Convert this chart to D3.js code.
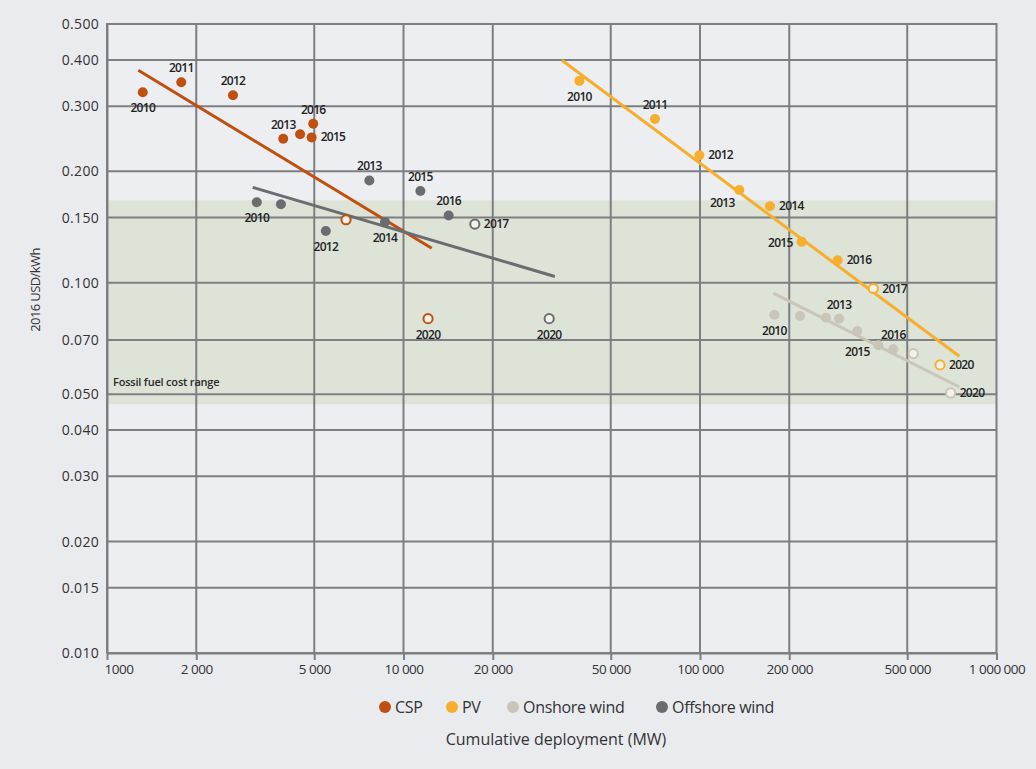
<!DOCTYPE html>
<html>
<head>
<meta charset="utf-8">
<script src="https://cdn.jsdelivr.net/npm/d3@7"></script>
<style>
  html, body { margin: 0; padding: 0; background: #e9ebee; }
  svg { display: block; font-family: "Open Sans", sans-serif; }
</style>
</head>
<body>
<svg id="chart" width="1036" height="769"></svg>
<script>
// ---- data -------------------------------------------------------------
// Cumulative deployment (MW) and levelised cost (2016 USD/kWh) per year.
// 2017 and 2020 are projections (drawn as open circles).
const cspYears      = [2010, 2011, 2012, 2013, 2014, 2015, 2016, 2017, 2020];
const cspMW         = [1320, 1780, 2660, 3930, 4480, 4900, 4960, 6400, 12100];
const cspLCOE       = [0.327, 0.348, 0.321, 0.245, 0.252, 0.247, 0.269, 0.148, 0.080];

const pvYears       = [2010, 2011, 2012, 2013, 2014, 2015, 2016, 2017, 2020];
const pvMW          = [39200, 70500, 99500, 135700, 172200, 220300, 291300, 384200, 644800];
const pvLCOE        = [0.351, 0.277, 0.221, 0.178, 0.161, 0.129, 0.115, 0.0965, 0.060];

const onshoreYears  = [2010, 2011, 2012, 2013, 2014, 2015, 2016, 2017, 2020];
const onshoreMW     = [178100, 217400, 266100, 294300, 339300, 399400, 448700, 524100, 700600];
const onshoreLCOE   = [0.082, 0.0813, 0.0805, 0.080, 0.0741, 0.0678, 0.0661, 0.0644, 0.0504];

const offshoreYears = [2010, 2011, 2012, 2013, 2014, 2015, 2016, 2017, 2020];
const offshoreMW    = [3200, 3860, 5470, 7670, 8660, 11400, 14200, 17400, 31000];
const offshoreLCOE  = [0.165, 0.163, 0.138, 0.189, 0.146, 0.177, 0.152, 0.144, 0.080];

const projectedYears = [2017, 2020];

// Learning-curve trend lines: [MW, USD/kWh] at each end
const cspTrend      = [[1275, 0.375], [12450, 0.124]];
const pvTrend       = [[34200, 0.399], [749000, 0.0633]];
const onshoreTrend  = [[176700, 0.0938], [749000, 0.0523]];
const offshoreTrend = [[3100, 0.181], [32400, 0.104]];

// Fossil fuel cost range (USD/kWh)
const fossilRange = [0.047, 0.167];

// Axis ticks
const xTicks      = [1000, 2000, 5000, 10000, 20000, 50000, 100000, 200000, 500000, 1000000];
const xTickLabels = ["1000", "2\u00a0000", "5\u00a0000", "10\u00a0000", "20\u00a0000", "50\u00a0000",
                     "100\u00a0000", "200\u00a0000", "500\u00a0000", "1\u00a0000\u00a0000"];
const yTicks      = [0.5, 0.4, 0.3, 0.2, 0.15, 0.1, 0.07, 0.05, 0.04, 0.03, 0.02, 0.015, 0.01];
const yTickLabels = ["0.500", "0.400", "0.300", "0.200", "0.150", "0.100", "0.070",
                     "0.050", "0.040", "0.030", "0.020", "0.015", "0.010"];

const seriesNames = ["CSP", "PV", "Onshore wind", "Offshore wind"];

// ---- presentation -----------------------------------------------------
const colors = {
  "CSP": "#c0500f",
  "PV": "#f6ae2c",
  "Onshore wind": "#c9c5b8",
  "Offshore wind": "#6b6c70"
};

// which year labels are drawn, and where they sit relative to the dot
const labelPlacement = {
  "CSP":          {2010: "below", 2011: "above", 2012: "above", 2013: "above", 2015: "right",
                   2016: "above", 2020: "below"},
  "PV":           {2010: "below", 2011: "above", 2012: "right", 2013: "belowleft", 2014: "right",
                   2015: "left", 2016: "right", 2017: "right", 2020: "right"},
  "Onshore wind": {2010: "below", 2013: "above", 2015: "belowleft2", 2016: "above", 2020: "right"},
  "Offshore wind":{2010: "below", 2012: "below", 2013: "above", 2014: "below", 2015: "above",
                   2016: "above", 2017: "right", 2020: "below"}
};
const placements = {
  above:      {dx: 0,   dy: -10, anchor: "middle"},
  below:      {dx: 0,   dy: 20,  anchor: "middle"},
  right:      {dx: 9,   dy: 4,   anchor: "start"},
  left:       {dx: -9,  dy: 5,   anchor: "end"},
  belowleft:  {dx: -17, dy: 17,  anchor: "middle"},
  belowleft2: {dx: -21, dy: 11,  anchor: "middle"}
};

const series = [
  {name: "CSP",           years: cspYears,      mw: cspMW,      lcoe: cspLCOE,      trend: cspTrend},
  {name: "PV",            years: pvYears,       mw: pvMW,       lcoe: pvLCOE,       trend: pvTrend},
  {name: "Onshore wind",  years: onshoreYears,  mw: onshoreMW,  lcoe: onshoreLCOE,  trend: onshoreTrend},
  {name: "Offshore wind", years: offshoreYears, mw: offshoreMW, lcoe: offshoreLCOE, trend: offshoreTrend}
];

// ---- layout -----------------------------------------------------------
const plot = {left: 107, right: 996.5, top: 24, bottom: 653};
const svg = d3.select("#chart");

const x = d3.scaleLog().domain([1000, 1000000]).range([plot.left, plot.right]);
const y = d3.scaleLog().domain([0.01, 0.5]).range([plot.bottom, plot.top]);

const gridColor = "#7e7f82";

// plot background
svg.append("rect")
  .attr("x", plot.left).attr("y", plot.top)
  .attr("width", plot.right - plot.left).attr("height", plot.bottom - plot.top)
  .attr("fill", "#eceef1");

// fossil fuel band
svg.append("rect")
  .attr("x", plot.left).attr("y", y(fossilRange[1]))
  .attr("width", plot.right - plot.left)
  .attr("height", y(fossilRange[0]) - y(fossilRange[1]))
  .attr("fill", "#dde3d7");

// gridlines
svg.append("g").selectAll("line").data(yTicks).join("line")
  .attr("x1", plot.left).attr("x2", plot.right)
  .attr("y1", d => y(d)).attr("y2", d => y(d))
  .attr("stroke", gridColor).attr("stroke-width", 2);
svg.append("g").selectAll("line").data(xTicks).join("line")
  .attr("x1", d => x(d)).attr("x2", d => x(d))
  .attr("y1", plot.top - 1).attr("y2", plot.bottom)
  .attr("stroke", gridColor).attr("stroke-width", 2);

svg.append("text")
  .attr("x", 113).attr("y", 386)
  .attr("font-size", 11).attr("font-weight", 600).attr("fill", "#2a2a2a")
  .attr("letter-spacing", -0.2)
  .text("Fossil fuel cost range");

// x axis
const xAxis = svg.append("g")
  .attr("transform", `translate(0,${plot.bottom})`)
  .call(d3.axisBottom(x).tickValues(xTicks)
        .tickFormat((d, i) => xTickLabels[i]).tickSize(7).tickSizeOuter(0).tickPadding(4));
xAxis.select(".domain").attr("stroke", gridColor).attr("stroke-width", 2);
xAxis.selectAll(".tick line").attr("stroke", gridColor).attr("stroke-width", 2);
xAxis.selectAll(".tick text")
  .attr("font-size", 13.5).attr("fill", "#333").attr("letter-spacing", -0.5)
  .attr("font-family", "Open Sans, sans-serif");
xAxis.select(".tick:first-of-type text").attr("text-anchor", "start").attr("dx", -3);

// y axis
const yAxis = svg.append("g")
  .attr("transform", `translate(${plot.left},0)`)
  .call(d3.axisLeft(y).tickValues(yTicks)
        .tickFormat((d, i) => yTickLabels[i]).tickSize(0).tickSizeOuter(0).tickPadding(8));
yAxis.select(".domain").attr("stroke", gridColor).attr("stroke-width", 2);
yAxis.selectAll(".tick text")
  .attr("font-size", 14).attr("fill", "#333").attr("letter-spacing", 0.3)
  .attr("font-family", "Open Sans, sans-serif");

svg.append("text")
  .attr("transform", `translate(40,290) rotate(-90)`)
  .attr("text-anchor", "middle")
  .attr("font-size", 13).attr("fill", "#333").attr("letter-spacing", -0.6)
  .text("2016 USD/kWh");

// trend lines
const line = d3.line().x(d => x(d[0])).y(d => y(d[1]));
svg.append("g").selectAll("path").data(series).join("path")
  .attr("d", d => line(d.trend))
  .attr("fill", "none")
  .attr("stroke", d => colors[d.name])
  .attr("stroke-width", 3);

// points and year labels
series.forEach(s => {
  const pts = s.years.map((yr, i) => ({year: yr, mw: s.mw[i], v: s.lcoe[i]}));
  const g = svg.append("g");
  g.selectAll("circle").data(pts).join("circle")
    .attr("cx", d => x(d.mw)).attr("cy", d => y(d.v))
    .attr("r", d => projectedYears.includes(d.year) ? 4.6 : 5)
    .attr("fill", d => projectedYears.includes(d.year) ? "#f4f1ea" : colors[s.name])
    .attr("stroke", d => projectedYears.includes(d.year) ? colors[s.name] : "none")
    .attr("stroke-width", 2);
  const placed = pts.filter(d => labelPlacement[s.name][d.year]);
  g.selectAll("text").data(placed).join("text")
    .attr("x", d => x(d.mw) + placements[labelPlacement[s.name][d.year]].dx)
    .attr("y", d => y(d.v) + placements[labelPlacement[s.name][d.year]].dy)
    .attr("text-anchor", d => placements[labelPlacement[s.name][d.year]].anchor)
    .attr("font-size", 12).attr("font-weight", 600).attr("fill", "#222")
    .attr("letter-spacing", -0.7)
    .text(d => d.year);
});

// legend
const legendX = [385, 452, 513, 662];
const legend = svg.append("g");
seriesNames.forEach((n, i) => {
  legend.append("circle").attr("cx", legendX[i]).attr("cy", 707).attr("r", 6)
    .attr("fill", colors[n]);
  legend.append("text").attr("x", legendX[i] + 10).attr("y", 712.5)
    .attr("font-size", 16).attr("fill", "#333").attr("letter-spacing", -0.3)
    .text(n);
});

svg.append("text")
  .attr("x", 556).attr("y", 745)
  .attr("text-anchor", "middle")
  .attr("font-size", 16).attr("fill", "#333").attr("letter-spacing", 0)
  .text("Cumulative deployment (MW)");
</script>
</body>
</html>
